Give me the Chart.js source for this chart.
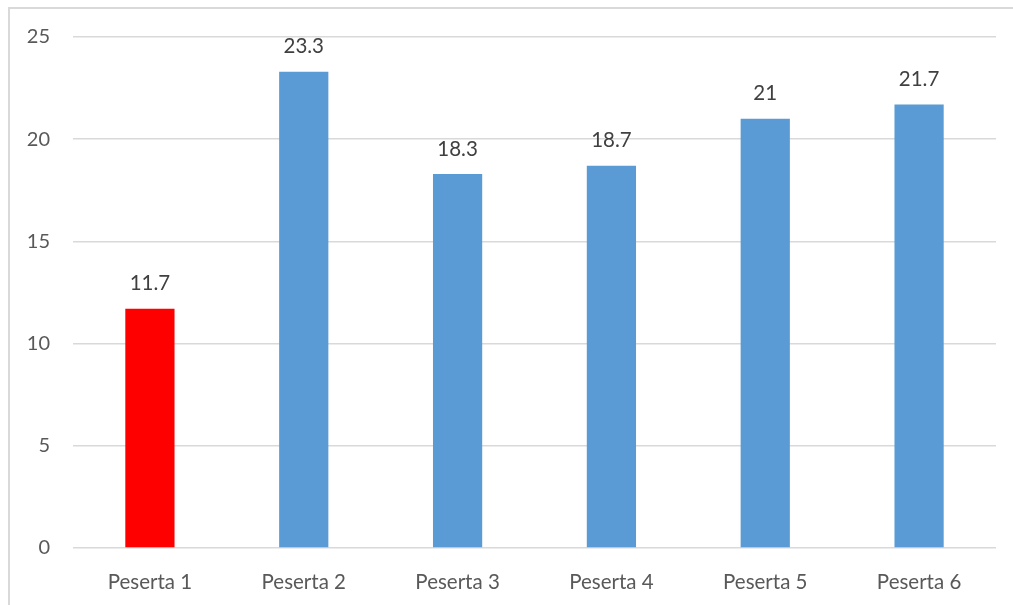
<!DOCTYPE html>
<html><head><meta charset="utf-8">
<script src="https://cdn.jsdelivr.net/npm/chart.js@4"></script>
<style>
html,body{margin:0;padding:0;background:#fff;overflow:hidden;}
#wrap{position:relative;width:1013px;height:605px;}
#frame{position:absolute;left:8px;top:7px;width:1100px;height:700px;border:2px solid #d9d9d9;box-sizing:border-box;}
canvas{position:absolute;left:0;top:0;}
</style></head>
<body><div id="wrap"><div id="frame"></div><canvas id="c" width="1013" height="605"></canvas></div>
<script>
const categories = ["Peserta 1","Peserta 2","Peserta 3","Peserta 4","Peserta 5","Peserta 6"];
const values = [11.7, 23.3, 18.3, 18.7, 21, 21.7];
const barColors = ["#ff0000","#5b9bd5","#5b9bd5","#5b9bd5","#5b9bd5","#5b9bd5"];
const yTicks = [0,5,10,15,20,25];
const FONT = "Lato, 'Noto Sans', sans-serif";

const labelPlugin = {
  id:'dl',
  afterDatasetsDraw(chart){
    const ctx = chart.ctx;
    const meta = chart.getDatasetMeta(0);
    ctx.save();
    ctx.font = "20.5px " + FONT;
    ctx.fillStyle = "#404040";
    ctx.textAlign = "center";
    ctx.textBaseline = "middle";
    meta.data.forEach((el,i)=>{
      ctx.fillText(String(values[i]), el.x, el.y - 25);
    });
    ctx.restore();
  }
};

new Chart(document.getElementById('c'), {
  type:'bar',
  data:{labels:categories, datasets:[{data:values, backgroundColor:barColors, categoryPercentage:1, barPercentage:0.32}]},
  options:{
    responsive:false, animation:false,
    layout:{padding:{top:37,right:17,left:0,bottom:0}},
    plugins:{legend:{display:false}, tooltip:{enabled:false}},
    scales:{
      x:{
        grid:{display:false}, border:{display:false},
        ticks:{color:"#595959", font:{family:FONT,size:20.5}, padding:14, maxRotation:0},
        afterFit(s){ s.height = 57; }
      },
      y:{
        min:0,max:25,
        afterBuildTicks(s){ s.ticks = yTicks.map(v=>({value:v})); },
        grid:{color:"#d9d9d9", lineWidth:1.5, drawTicks:false},
        border:{display:false},
        ticks:{color:"#595959", font:{family:FONT,size:20}, padding:23},
        afterFit(s){ s.width = 73; }
      }
    }
  },
  plugins:[labelPlugin]
});
</script></body></html>
